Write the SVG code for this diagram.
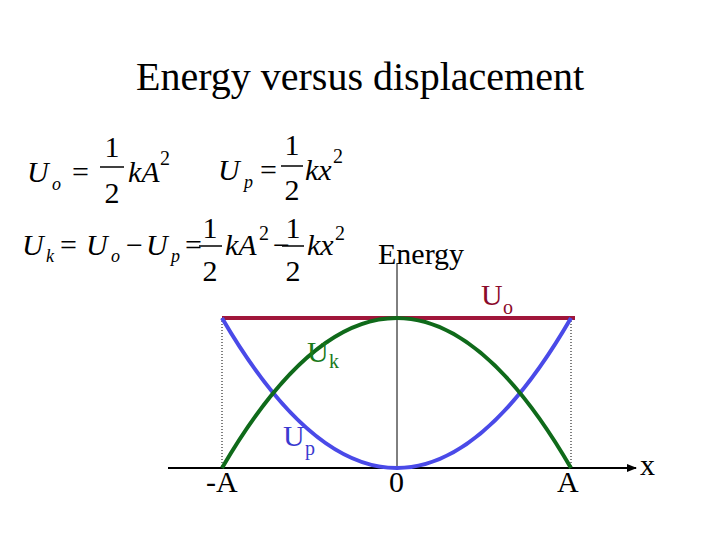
<svg xmlns="http://www.w3.org/2000/svg" width="720" height="540" viewBox="0 0 720 540">
<defs><marker id="ar" markerWidth="10" markerHeight="8" refX="9" refY="4" orient="auto" markerUnits="userSpaceOnUse"><path d="M0,0 L10,4 L0,8 Z" fill="#000"/></marker></defs>
<rect width="720" height="540" fill="#fff"/>
<g style="font-family:'Liberation Serif','Times New Roman',serif">
<text x="360" y="90" font-size="40" text-anchor="middle">Energy versus displacement</text>
<g id="eq1" font-size="30">
<text x="27" y="182" font-style="italic">U</text><text x="52" y="190" font-style="italic" font-size="18">o</text>
<text x="72" y="182">=</text>
<text x="112" y="157" text-anchor="middle">1</text><line x1="100" y1="167" x2="124" y2="167" stroke="#000" stroke-width="1.5"/><text x="112" y="203" text-anchor="middle">2</text>
<text x="128" y="182" font-style="italic">kA</text><text x="160" y="165" font-size="20">2</text>
</g>
<g id="eq2" font-size="30">
<text x="218" y="180" font-style="italic">U</text><text x="244" y="188" font-style="italic" font-size="18">p</text>
<text x="260" y="180">=</text>
<text x="292" y="155" text-anchor="middle">1</text><line x1="281" y1="166" x2="303" y2="166" stroke="#000" stroke-width="1.5"/><text x="292" y="200" text-anchor="middle">2</text>
<text x="305" y="180" font-style="italic">kx</text><text x="333" y="163" font-size="20">2</text>
</g>
<g id="eq3" font-size="30">
<text x="22" y="255" font-style="italic">U</text><text x="46" y="262" font-style="italic" font-size="18">k</text>
<text x="60" y="255">=</text>
<text x="86" y="255" font-style="italic">U</text><text x="111" y="262" font-style="italic" font-size="18">o</text>
<text x="126" y="255">−</text>
<text x="146" y="255" font-style="italic">U</text><text x="171" y="262" font-style="italic" font-size="18">p</text>
<text x="185" y="255">=</text>
<text x="210" y="238" text-anchor="middle">1</text><line x1="199" y1="246" x2="222" y2="246" stroke="#000" stroke-width="1.5"/><text x="210" y="281" text-anchor="middle">2</text>
<text x="225" y="255" font-style="italic">kA</text><text x="259" y="240" font-size="20">2</text>
<text x="273" y="255">−</text>
<text x="293" y="238" text-anchor="middle">1</text><line x1="282" y1="246" x2="304" y2="246" stroke="#000" stroke-width="1.5"/><text x="293" y="281" text-anchor="middle">2</text>
<text x="307" y="255" font-style="italic">kx</text><text x="335" y="240" font-size="20">2</text>
</g>
<g id="axes">
<line x1="168" y1="468" x2="636" y2="468" stroke="#000" stroke-width="2" marker-end="url(#ar)"/>
<line x1="397" y1="263" x2="397" y2="468" stroke="#000" stroke-width="1"/>
<line x1="222" y1="318" x2="222" y2="468" stroke="#000" stroke-width="1" stroke-dasharray="1,2"/>
<line x1="571" y1="318" x2="571" y2="468" stroke="#000" stroke-width="1" stroke-dasharray="1,2"/>
</g>
<g id="curves" fill="none" stroke-width="4">
<line x1="222" y1="318" x2="575" y2="318" stroke="#a0163a"/>
<path d="M222,318 Q309.5,468 397,468 Q484,468 571,318" stroke="#4a4ae8"/>
<path d="M222,468 Q397,168 571,468" stroke="#0f6a1a"/>
</g>
<g id="labels" font-size="30">
<text x="378" y="264">Energy</text>
<text x="481" y="305" fill="#8b0a2a">U</text><text x="503" y="314" font-size="20" fill="#8b0a2a">o</text>
<text x="307" y="362" fill="#1a7a1a">U</text><text x="329" y="368" font-size="20" fill="#1a7a1a">k</text>
<text x="283" y="446" fill="#3a3ad0">U</text><text x="305" y="455" font-size="20" fill="#3a3ad0">p</text>
<text x="206" y="492">-A</text>
<text x="389" y="492">0</text>
<text x="557" y="492">A</text>
<text x="640" y="475">x</text>
</g>
</g>
</svg>
